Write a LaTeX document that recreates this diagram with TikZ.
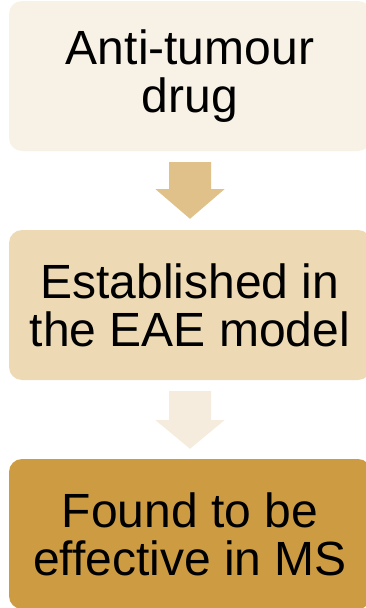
\documentclass[tikz,border=0pt]{standalone}
\usepackage{fontspec}
\setmainfont{Liberation Sans}
\usetikzlibrary{calc}
\definecolor{boxA}{HTML}{F8F1E6}
\definecolor{boxB}{HTML}{EDDAB4}
\definecolor{boxC}{HTML}{CC9B42}
\definecolor{arrA}{HTML}{E0C189}
\definecolor{arrB}{HTML}{F5ECDD}
\tikzset{
  stagebox/.style={rectangle, rounded corners=13pt, minimum width=362pt, minimum height=150pt,
    inner sep=0pt, align=center, font=\fontsize{48}{48}\selectfont, text=black},
}
\begin{document}
\begin{tikzpicture}[x=1pt,y=-1pt]
\path[use as bounding box, clip] (0,0) rectangle (366,608);
\node[stagebox, fill=boxA] (b1) at (190,76) {Anti-tumour\\drug\hspace*{0pt}};
\node[stagebox, fill=boxB] (b2) at (190,305) {Established in\\the EAE model};
\node[stagebox, fill=boxC] (b3) at (190,534) {Found to be\\effective in MS};
% arrow 1
\fill[arrA] ($(b1.south)+(-21,11)$) -- ($(b1.south)+(21,11)$) -- ($(b1.south)+(21,38)$)
  -- ($(b1.south)+(34.5,38)$) -- ($(b2.north)+(0,-11)$) -- ($(b1.south)+(-34.5,38)$)
  -- ($(b1.south)+(-21,38)$) -- cycle;
% arrow 2
\fill[arrB] ($(b2.south)+(-21,11)$) -- ($(b2.south)+(21,11)$) -- ($(b2.south)+(21,40)$)
  -- ($(b2.south)+(34.5,40)$) -- ($(b3.north)+(0,-10)$) -- ($(b2.south)+(-34.5,40)$)
  -- ($(b2.south)+(-21,40)$) -- cycle;
\end{tikzpicture}
\end{document}
